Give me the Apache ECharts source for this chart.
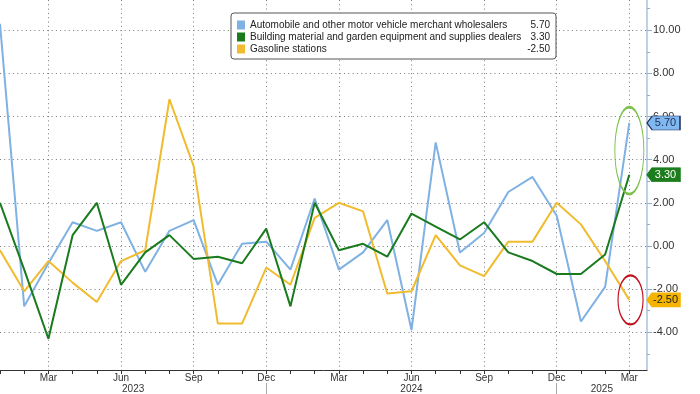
<!DOCTYPE html>
<html><head><meta charset="utf-8">
<script src="https://cdn.jsdelivr.net/npm/echarts@6/dist/echarts.min.js"></script>
<style>html,body{margin:0;padding:0;background:#fff}#c{width:700px;height:394px}</style>
</head><body><div id="c"></div>
<script>
// Monthly, Jan 2023 .. Mar 2025
const months = ['Jan 2023','Feb 2023','Mar 2023','Apr 2023','May 2023','Jun 2023','Jul 2023','Aug 2023','Sep 2023','Oct 2023','Nov 2023','Dec 2023',
  'Jan 2024','Feb 2024','Mar 2024','Apr 2024','May 2024','Jun 2024','Jul 2024','Aug 2024','Sep 2024','Oct 2024','Nov 2024','Dec 2024',
  'Jan 2025','Feb 2025','Mar 2025'];
const seriesNames = ['Automobile and other motor vehicle merchant wholesalers',
  'Building material and garden equipment and supplies dealers',
  'Gasoline stations'];
const automobile = [10.3,-2.8,-0.8,1.1,0.7,1.1,-1.2,0.7,1.2,-1.8,0.1,0.2,-1.1,2.2,-1.1,-0.3,1.2,-3.9,4.8,-0.3,0.6,2.5,3.2,1.4,-3.5,-1.9,5.70];
const building = [2.0,-1.1,-4.3,0.5,2.0,-1.8,-0.3,0.5,-0.6,-0.5,-0.8,0.8,-2.8,2.0,-0.2,0.1,-0.5,1.5,0.9,0.3,1.1,-0.3,-0.7,-1.3,-1.3,-0.4,3.30];
const gasoline = [-0.2,-2.1,-0.7,-1.7,-2.6,-0.7,-0.2,6.8,3.7,-3.6,-3.6,-1.0,-1.8,1.3,2.0,1.6,-2.2,-2.1,0.5,-0.9,-1.4,0.2,0.2,2.0,1.0,-0.7,-2.50];
const yTickValues = [-4,-2,0,2,4,6,8,10];
const yMinorTickValues = [-5,-3,-1,1,3,5,7,9,11];
const monthAbbr = ['Jan','Feb','Mar','Apr','May','Jun','Jul','Aug','Sep','Oct','Nov','Dec'];
const years = ['2023','2024','2025'];

const colors = ['#7fb1e3','#1a7a1e','#f0bb2e'];
const tagFill = ['#80b8ef','#1b7d1b','#f5b400'];
const tagText = ['#1d2f5c','#ffffff','#222222'];
const tagBorder = ['#1d2f5c','#1b7d1b','#f5b400'];
const FONT = "'Liberation Sans', Arial, sans-serif";
const X_MAX = 26.73, Y_MIN = -5.75, Y_MAX = 11.4;
const seriesData = [automobile, building, gasoline];

const allMonthIdx = months.map((m,i)=>i);
const quarterIdx = allMonthIdx.filter(i => i % 3 === 2);
const decIdx = allMonthIdx.filter(i => i % 12 === 11);
// year label positions: centres of segments bounded by plot edges and December separators
const bounds = [0].concat(decIdx, [X_MAX]);
const yearPos = years.map((y,k)=> (bounds[k] + bounds[k+1]) / 2);

const lastVal = arr => arr[arr.length-1];
const legendValue = {};
seriesNames.forEach((n,k)=> legendValue[n] = lastVal(seriesData[k]).toFixed(2));

const dotted = {color:'#7a7a7a', width:1, type:[1,3.3]};

const series = seriesNames.map((name,k)=>{
  const last = lastVal(seriesData[k]);
  const mpData = [{
    coord:[X_MAX, last], value: last,
    symbol:'path://M0,6 L6,0 L38,0 L38,12 L6,12 Z', symbolSize:[33,14], symbolOffset:['50%',0],
    itemStyle:{color:tagFill[k], borderColor:tagBorder[k], borderWidth:1},
    label:{show:true, position:'inside', offset:[2,0], formatter: p => p.value.toFixed(2),
      color:tagText[k], fontSize:11, fontFamily:FONT}
  }];
  return {
    name, type:'line', data: seriesData[k].map((v,i)=>[i,v]),
    showSymbol:false, symbol:'none', lineStyle:{width:2, color:colors[k]}, itemStyle:{color:colors[k]},
    z: k===1 ? 4 : 3,
    markPoint:{silent:true, animation:false, data: mpData}
  };
});
// highlight ellipses around latest readings
series[0].markPoint.data.push({coord:[lastVal(allMonthIdx), 4.42], value:0, symbol:'circle', symbolSize:[29,87], symbolOffset:[0,0],
  itemStyle:{color:'rgba(0,0,0,0)', borderColor:'#7cc04a', borderWidth:1.6}, label:{show:false}});
series[2].markPoint.data.push({coord:[lastVal(allMonthIdx)+0.05, -2.5], value:0, symbol:'circle', symbolSize:[25,49], symbolOffset:[0,0],
  itemStyle:{color:'rgba(0,0,0,0)', borderColor:'#c0101e', borderWidth:1.6}, label:{show:false}});

const chart = echarts.init(document.getElementById('c'));
chart.setOption({
  animation:false,
  grid:{left:0, right:53, top:0, bottom:24, containLabel:false},
  legend:{
    data: seriesNames, orient:'vertical', left:231, top:13,
    padding:[6,6,4,6], itemGap:0, itemWidth:8, itemHeight:9, icon:'rect',
    backgroundColor:'#fff', borderColor:'#555', borderWidth:1, borderRadius:3,
    selectedMode:false,
    formatter: n => `{n|${n}}{v|${legendValue[n]}}`,
    textStyle:{fontSize:10, fontFamily:FONT, color:'#222', lineHeight:12,
      rich:{n:{width:276, fontSize:10, fontFamily:FONT, color:'#222', lineHeight:12},
            v:{width:24, align:'right', fontSize:10, fontFamily:FONT, color:'#222', lineHeight:12}}}
  },
  xAxis:[
    {type:'value', min:0, max:X_MAX, position:'bottom',
      axisLine:{show:true, onZero:false, lineStyle:{color:'#333', width:1}},
      axisTick:{show:true, customValues: allMonthIdx, length:4, lineStyle:{color:'#333'}},
      axisLabel:{show:true, customValues: quarterIdx, formatter: v => monthAbbr[Math.round(v)%12],
        fontSize:10, color:'#333', fontFamily:FONT, margin:3},
      splitLine:{show:false}},
    {type:'value', min:0, max:X_MAX, position:'bottom',
      axisLine:{show:false, onZero:false}, axisTick:{show:false, customValues: quarterIdx}, axisLabel:{show:false},
      splitLine:{show:true, lineStyle:dotted}},
    {type:'value', min:0, max:X_MAX, position:'bottom', offset:13,
      axisLine:{show:false, onZero:false},
      axisTick:{show:true, customValues: decIdx, length:12, lineStyle:{color:'#aaa', width:1}},
      axisLabel:{show:true, customValues: yearPos, formatter: v => years[yearPos.findIndex(p=>Math.abs(p-v)<0.01)] || '',
        fontSize:10, color:'#333', fontFamily:FONT, margin:1},
      splitLine:{show:false}}
  ],
  yAxis:[
    {type:'value', min:Y_MIN, max:Y_MAX, position:'right',
      axisLine:{show:true, onZero:false, lineStyle:{color:'#a8c3de', width:1.5}},
      axisTick:{show:true, customValues: yTickValues, length:5, lineStyle:{color:'#8fb0d3'}},
      axisLabel:{show:true, customValues: yTickValues, formatter: v => v.toFixed(2), fontSize:11, color:'#333', fontFamily:FONT, margin:6},
      splitLine:{show:true, lineStyle:dotted}},
    {type:'value', min:Y_MIN, max:Y_MAX, position:'right',
      axisLine:{show:false, onZero:false},
      axisTick:{show:true, customValues: yMinorTickValues, length:3, lineStyle:{color:'#8fb0d3'}},
      axisLabel:{show:false}, splitLine:{show:false}}
  ],
  series
});
</script></body></html>
